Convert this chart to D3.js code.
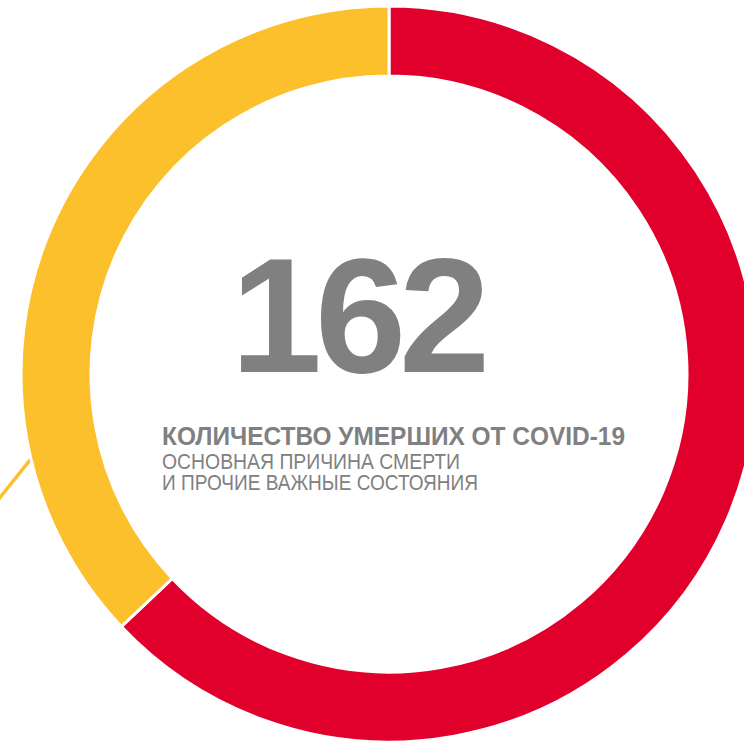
<!DOCTYPE html>
<html>
<head>
<meta charset="utf-8">
<script src="https://cdn.jsdelivr.net/npm/d3@7"></script>
<style>
  html, body { margin: 0; padding: 0; background: #fff; overflow: hidden; }
  text { font-family: "Liberation Sans", Arial, sans-serif; fill: #808080; }
</style>
</head>
<body>
<div id="chart"></div>
<script>
'use strict';
// slices of the donut
var categories = ['Основная причина смерти', 'Прочие важные состояния'];
var values = [102, 60];
var colors = ['#e1002c', '#fdc02d'];
var total = 162;
var titleLines = [
    'КОЛИЧЕСТВО УМЕРШИХ ОТ COVID-19',
    'ОСНОВНАЯ ПРИЧИНА СМЕРТИ',
    'И ПРОЧИЕ ВАЖНЫЕ СОСТОЯНИЯ'
];

var width = 744, height = 744;
var cx = 389, cy = 374, rOuter = 368, rInner = 298;

var svg = d3.select('#chart').append('svg')
    .attr('width', width)
    .attr('height', height);

var g = svg.append('g')
    .attr('transform', 'translate(' + cx + ',' + cy + ')');

var pie = d3.pie().sort(null).value(function(d) { return d; });
var arc = d3.arc().innerRadius(rInner).outerRadius(rOuter);
var arcs = pie(values);

// leader tick going out of the yellow slice
var tickAngle = arcs[1].startAngle + (arcs[1].endAngle - arcs[1].startAngle) * 0.225;
var p0 = [rOuter * Math.sin(tickAngle), -rOuter * Math.cos(tickAngle)];
g.append('line')
    .attr('x1', p0[0]).attr('y1', p0[1])
    .attr('x2', p0[0] - 60).attr('y2', p0[1] + 75)
    .attr('stroke', colors[1])
    .attr('stroke-width', 3.5);

g.selectAll('path.slice')
    .data(arcs)
    .enter().append('path')
    .attr('class', 'slice')
    .attr('d', arc)
    .attr('fill', function(d, i) { return colors[i]; })
    .attr('stroke', '#fff')
    .attr('stroke-width', 3);

// centre labels
svg.append('text')
    .attr('x', 357)
    .attr('y', 372)
    .attr('text-anchor', 'middle')
    .attr('font-size', 164)
    .attr('font-weight', 'bold')
    .attr('letter-spacing', -7)
    .text(total);

svg.append('text')
    .attr('x', 162)
    .attr('y', 445)
    .attr('font-size', 25)
    .attr('font-weight', 'bold')
    .attr('textLength', 463)
    .attr('lengthAdjust', 'spacingAndGlyphs')
    .text(titleLines[0]);

// lighter lines are horizontally squeezed, as in the original
var subWidths = [298, 316];
svg.append('text')
    .attr('font-size', 22)
    .selectAll('tspan')
    .data(titleLines.slice(1))
    .enter().append('tspan')
    .attr('x', 162)
    .attr('y', function(d, i) { return 469 + i * 21; })
    .attr('textLength', function(d, i) { return subWidths[i]; })
    .attr('lengthAdjust', 'spacingAndGlyphs')
    .text(function(d) { return d; });
</script>
</body>
</html>
